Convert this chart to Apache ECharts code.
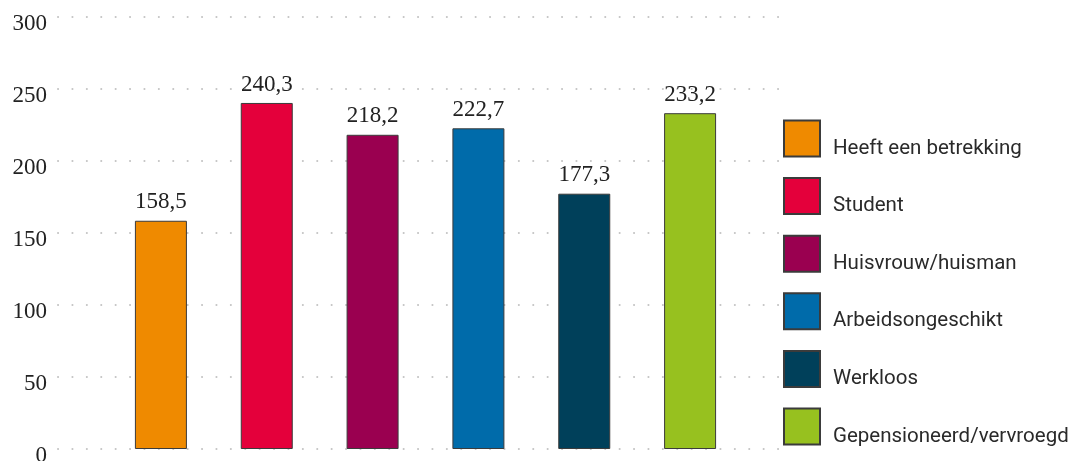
<!DOCTYPE html>
<html><head><meta charset="utf-8">
<script src="https://cdn.jsdelivr.net/npm/echarts@6/dist/echarts.min.js"></script>
<style>html,body{margin:0;padding:0;background:#fff}#c{width:1074px;height:461px}</style>
</head><body><div id="c"></div>
<script>
const categories = ['Heeft een betrekking','Student','Huisvrouw/huisman','Arbeidsongeschikt','Werkloos','Gepensioneerd/vervroegd'];
const values = [158.5, 240.3, 218.2, 222.7, 177.3, 233.2];
const colors = ['#EF8A00','#E4003B','#9A0050','#006BAA','#00405A','#97C11F'];
const yTicks = [0, 50, 100, 150, 200, 250, 300];

const chart = echarts.init(document.getElementById('c'));
const series = categories.map((name, i) => ({
  name: name,
  type: 'bar',
  xAxisIndex: 1, yAxisIndex: 1,
  stack: 'all',
  barWidth: 52,
  data: values.map((v, j) => j === i ? v : '-'),
  itemStyle: {color: colors[i], borderColor: '#3b3b3b', borderWidth: 1},
  label: {
    show: true, position: 'top', distance: 7,
    fontFamily: 'Liberation Serif', fontSize: 23, color: '#222',
    formatter: p => String(p.value).replace('.', ',')
  },
  emphasis: {disabled: true}
}));
chart.setOption({
  animation: false,
  grid: [
    {left: 58, width: 725, top: 17, height: 432, outerBoundsMode: 'none', containLabel: false},
    {left: 108, width: 635, top: 17, height: 432, outerBoundsMode: 'none', containLabel: false}
  ],
  xAxis: [
    {type: 'value', gridIndex: 0, show: false},
    {type: 'category', gridIndex: 1, data: categories, show: false}
  ],
  yAxis: [
    {type: 'value', gridIndex: 0, min: 0, max: 300, interval: 50,
     axisLine: {show: false}, axisTick: {show: false},
     axisLabel: {fontFamily: 'Liberation Serif', fontSize: 23, color: '#222', margin: 11,
       verticalAlign: 'top', lineHeight: 13,
       formatter: v => yTicks.includes(v) ? String(v) : ''},
     splitLine: {lineStyle: {color: '#c4c4c4', width: 2, type: [0.1, 14.3], cap: 'round'}}},
    {type: 'value', gridIndex: 1, min: 0, max: 300, interval: 50, show: false, splitLine: {show: false}}
  ],
  legend: {
    orient: 'vertical', left: 783, top: 118, height: 343, padding: 0,
    itemWidth: 36, itemHeight: 36, itemGap: 16.6,
    icon: 'rect',
    data: categories,
    formatter: name => '\n' + name,
    textStyle: {fontFamily: 'Roboto', fontSize: 20.5, lineHeight: 20, color: '#2a2a2a', padding: [0, 0, 0, 8]},
    selectedMode: false
  },
  series: series
});
</script></body></html>
